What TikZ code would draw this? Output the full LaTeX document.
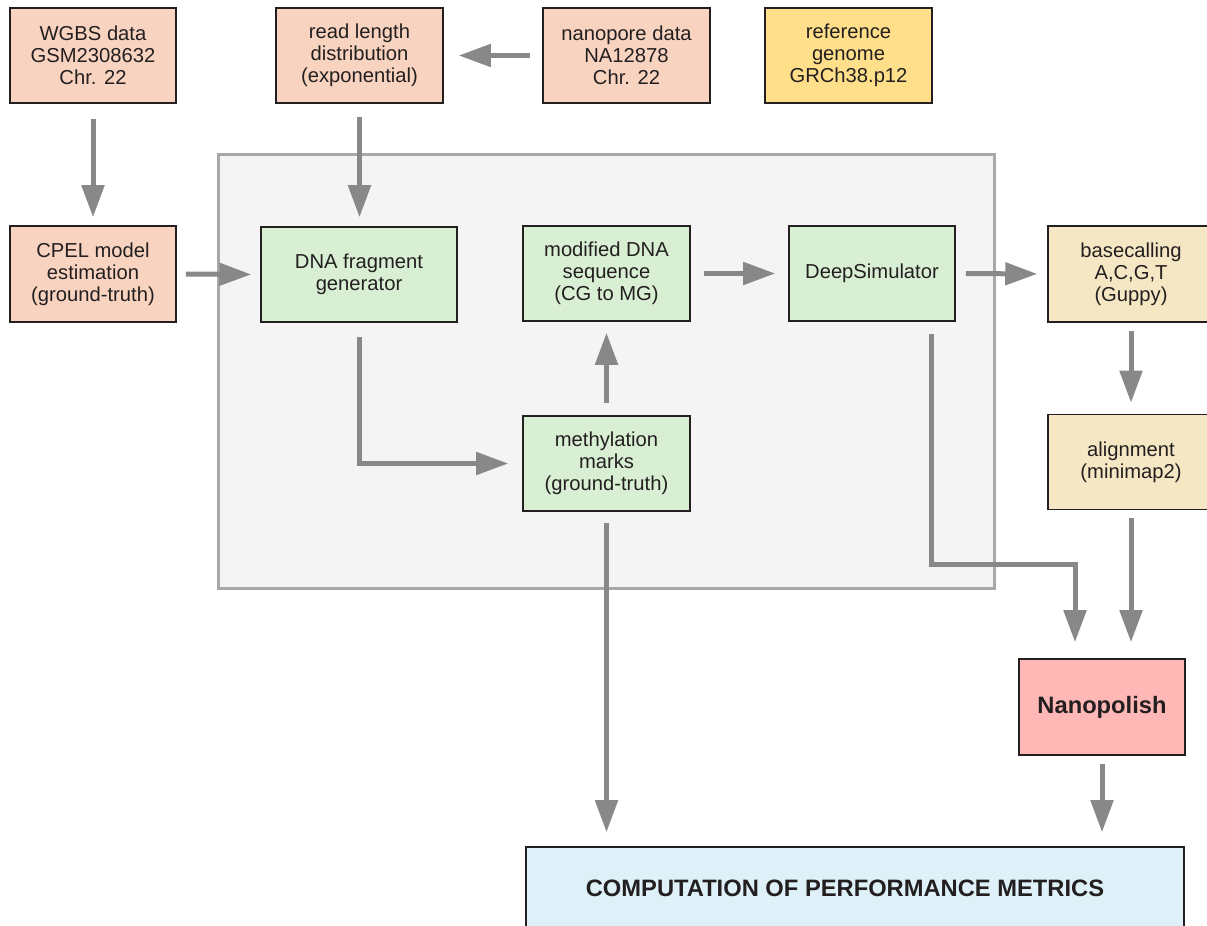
\documentclass[tikz,border=0pt]{standalone}
\usepackage{fontspec}
\setmainfont{Liberation Sans}
\usetikzlibrary{arrows.meta,calc}
\definecolor{salmon}{HTML}{F8D3C0}
\definecolor{leaf}{HTML}{D9EFD3}
\definecolor{gold}{HTML}{FFDF8A}
\definecolor{wheat}{HTML}{F5E7C4}
\definecolor{pinkish}{HTML}{FFB8B5}
\definecolor{sky}{HTML}{DEF1F8}
\definecolor{panel}{HTML}{F4F4F4}
\definecolor{panelline}{HTML}{A8A8A8}
\definecolor{arrowgray}{HTML}{888888}
\definecolor{ink}{HTML}{231F20}
\begin{document}
\begin{tikzpicture}[x=0.02cm,y=-0.02cm,
  box/.style={draw=ink,line width=0.9pt,inner sep=0pt,align=center,text=ink,
    font=\fontsize{11.5}{12.6}\selectfont},
  arr/.style={draw=arrowgray,line width=0.1cm,-{Triangle[length=0.64cm,width=0.44cm]}},
]
\useasboundingbox (0,0) rectangle (1207,926);
% panel
\node[draw=panelline,fill=panel,line width=0.06cm,minimum width=15.54cm,minimum height=8.7cm] (panel) at (606.5,371.5) {};
% top row
\node[box,fill=salmon,minimum width=3.32cm,minimum height=1.9cm] (wgbs) at (93,55.5) {WGBS data\\GSM2308632\\Chr. 22};
\node[box,fill=salmon,minimum width=3.34cm,minimum height=1.9cm] (readlen) at (359.5,55.5) {read length\\distribution\\(exponential)};
\node[box,fill=salmon,minimum width=3.34cm,minimum height=1.9cm] (nanop) at (626.5,55.5) {nanopore data\\NA12878\\Chr. 22};
\node[box,fill=gold,minimum width=3.34cm,minimum height=1.9cm] (refg) at (848.5,55.5) {reference\\genome\\GRCh38.p12};
% middle
\node[box,fill=salmon,minimum width=3.32cm,minimum height=1.92cm] (cpel) at (93,274) {CPEL model\\estimation\\(ground-truth)};
\node[box,fill=leaf,minimum width=3.92cm,minimum height=1.9cm] (dna) at (359,274.5) {DNA fragment\\generator};
\node[box,fill=leaf,minimum width=3.34cm,minimum height=1.9cm] (mod) at (606.5,273.5) {modified DNA\\sequence\\(CG to MG)};
\node[box,fill=leaf,minimum width=3.32cm,minimum height=1.9cm] (deep) at (872,273.5) {DeepSimulator};
\node[box,fill=leaf,minimum width=3.34cm,minimum height=1.9cm] (meth) at (606.5,463.5) {methylation\\marks\\(ground-truth)};
\node[box,fill=wheat,minimum width=3.32cm,minimum height=1.92cm] (basec) at (1131,274) {basecalling\\A,C,G,T\\(Guppy)};
\node[box,fill=wheat,minimum width=3.32cm,minimum height=1.9cm] (align) at (1131,462) {alignment\\(minimap2)};
\node[box,fill=pinkish,minimum width=3.32cm,minimum height=1.92cm,font=\fontsize{13.5}{15}\selectfont\bfseries] (npol) at (1102,707) {Nanopolish};
\node[box,fill=sky,minimum width=13.16cm,minimum height=1.66cm] (comp) at (855,888.5) {};
\node[text=ink,font=\fontsize{13.5}{15}\selectfont\bfseries,inner sep=0pt] (comptext) at (845,888) {COMPUTATION OF PERFORMANCE METRICS};
% arrows
\draw[arr,shorten <=0.3cm,shorten >=0.16cm] (wgbs.south) -- (cpel.north);
\draw[arr,shorten <=0.24cm,shorten >=0.3cm] (nanop.west) -- (readlen.east);
\draw[arr,shorten <=0.26cm,shorten >=0.18cm] (readlen.south) -- (readlen.south |- dna.north);
\draw[arr,shorten <=0.18cm,shorten >=0.18cm] (cpel.east) -- (dna.west);
\draw[arr,shorten <=0.28cm,shorten >=0.28cm] (dna.south) |- (meth.west);
\draw[arr,shorten <=0.24cm,shorten >=0.22cm] (meth.north) -- (mod.south);
\draw[arr,shorten <=0.26cm,shorten >=0.26cm] (mod.east) -- (deep.west);
\draw[arr,shorten <=0.2cm,shorten >=0.2cm] (deep.east) -- (basec.west);
\draw[arr,shorten <=0.16cm,shorten >=0.22cm] (basec.south) -- (align.north);
\coordinate (dsA) at ($(deep.south east)+(-24,12)$);
\coordinate (dsB) at ($(npol.north)+(-27,-94)$);
\draw[arr] (dsA) |- (dsB) -- ($(npol.north)+(-27,-16)$);
\draw[arr,shorten <=0.16cm,shorten >=0.32cm] (align.south) -- (align.south |- npol.north);
\draw[arr,shorten <=0.22cm,shorten >=0.28cm] (meth.south) -- (meth.south |- comp.north);
\draw[arr,shorten <=0.16cm,shorten >=0.28cm] (npol.south) -- (npol.south |- comp.north);
\end{tikzpicture}
\end{document}
